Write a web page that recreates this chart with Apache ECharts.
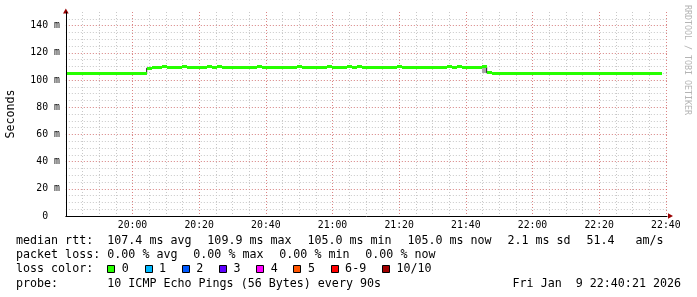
<!DOCTYPE html>
<html><head><meta charset="utf-8">
<script src="https://cdn.jsdelivr.net/npm/echarts@6/dist/echarts.min.js"></script>
<style>html,body{margin:0;padding:0;background:#fff}#c{width:697px;height:297px}</style>
</head><body><div id="c"></div>
<script>
// ---- data ----
const xTickValues = [1200, 1220, 1240, 1260, 1280, 1300, 1320, 1340, 1360]; // minutes of day
const xTickLabels = ['20:00', '20:20', '20:40', '21:00', '21:20', '21:40', '22:00', '22:20', '22:40'];
const yTickValues = [0, 20, 40, 60, 80, 100, 120, 140];
const yTickLabels = ['0  ', '20 m', '40 m', '60 m', '80 m', '100 m', '120 m', '140 m'];
const slotStartMin = 1180.25;   // 19:40:15, first 90 s slot
const slotStepMin = 1.5;        // 90 s per probe round
const medianRtt = [
  105.0,105.0,105.0,105.0,105.0,105.0,105.0,105.0,105.0,105.0,
  105.0,105.0,105.0,105.0,105.0,105.0,108.7,109.2,109.2,109.9,
  109.2,109.2,109.2,109.9,109.2,109.2,109.2,109.2,109.9,109.2,
  109.9,109.2,109.2,109.2,109.2,109.2,109.2,109.2,109.9,109.2,
  109.2,109.2,109.2,109.2,109.2,109.2,109.9,109.2,109.2,109.2,
  109.2,109.2,109.9,109.2,109.2,109.2,109.9,109.2,109.9,109.2,
  109.2,109.2,109.2,109.2,109.2,109.2,109.9,109.2,109.2,109.2,
  109.2,109.2,109.2,109.2,109.2,109.2,109.9,109.2,109.9,109.2,
  109.2,109.2,109.2,109.9,105.5,105.0,105.0,105.0,105.0,105.0,
  105.0,105.0,105.0,105.0,105.0,105.0,105.0,105.0,105.0,105.0,
  105.0,105.0,105.0,105.0,105.0,105.0,105.0,105.0,105.0,105.0,
  105.0,105.0,105.0,105.0,105.0,105.0,105.0,105.0,105.0
];
const smokeSlots = [83];
const smokeLow = [104.9];
const smokeHigh = [109.9];
const lossLabels = ['0', '1', '2', '3', '4', '5', '6-9', '10/10'];
const lossColors = ['#26ff00', '#00b8ff', '#0059ff', '#5e00ff', '#ff00ff', '#ff5500', '#ff0000', '#a10000'];
const statsRtt = ['107.4 ms avg', '109.9 ms max', '105.0 ms min', '105.0 ms now', '2.1 ms sd', '51.4   am/s'];
const statsLoss = ['0.00 % avg', '0.00 % max', '0.00 % min', '0.00 % now'];
const probeText = '10 ICMP Echo Pings (56 Bytes) every 90s';
const dateText = 'Fri Jan  9 22:40:21 2026';
const watermark = 'RRDTOOL / TOBI OETIKER';
const yName = 'Seconds';

// ---- layout ----
const X_MIN = 1180, X_MAX = 1360.35, Y_MIN = 0, Y_MAX = 150;
const GRID = { left: 65.83, right: 30, top: 12, bottom: 81 };
const MONO = '"DejaVu Sans Mono", monospace';
const FOOT = '11.67px ' + MONO;
const CW = 7.02; // footer char width
const MAJOR = 'rgba(255,0,0,0.34)';
const MINOR = '#c8c8c8';

const slotData = medianRtt.map((v, k) => [slotStartMin + k * slotStepMin, v]);
const lineData = slotData.concat([[slotStartMin + medianRtt.length * slotStepMin, medianRtt[medianRtt.length - 1]]]);
const smokeData = smokeSlots.map((k, i) => [slotStartMin + k * slotStepMin, smokeLow[i], smokeHigh[i]]);

function xFmt(v) { const i = xTickValues.findIndex(t => Math.abs(t - v) < 1e-6); return i < 0 ? '' : xTickLabels[i]; }
function yFmt(v) { const i = yTickValues.findIndex(t => Math.abs(t - v) < 1e-6); return i < 0 ? '' : yTickLabels[i]; }

const gridLine = (c) => ({ show: true, showMinLine: false, showMaxLine: false, lineStyle: { color: c, width: 1, type: [1, 2] } });
const hidden = { axisLine: { show: false }, axisTick: { show: false }, axisLabel: { show: false } };

// footer graphics
const graphics = [];
function txt(text, x, y, extra) {
  graphics.push(Object.assign({ type: 'text', x: x, y: y, silent: true,
    style: Object.assign({ text: text, font: FOOT, fill: '#000', align: 'left', verticalAlign: 'middle' }, extra || {}) }));
}
const rows = [241, 255, 269, 283.5];
txt('median rtt:', 16, rows[0]);
let cx = 107.3;
statsRtt.forEach(s => { txt(s, cx, rows[0]); cx += s.length * CW + 15.8; });
txt('packet loss:', 16, rows[1]);
cx = 107.3;
statsLoss.forEach(s => { txt(s, cx, rows[1]); cx += s.length * CW + 15.8; });
txt('loss color:', 16, rows[2]);
cx = 107.3;
lossLabels.forEach((s, i) => {
  graphics.push({ type: 'rect', silent: true, shape: { x: Math.round(cx) + 0.5, y: rows[2] - 3.5, width: 7, height: 7 },
    style: { fill: lossColors[i], stroke: '#000', lineWidth: 1 } });
  txt(s, cx + 14.5, rows[2]);
  cx += 14.5 + s.length * CW + 15.7;
});
txt('probe:', 16, rows[3]);
txt(probeText, 107.3, rows[3]);
txt(dateText, 681, rows[3], { align: 'right' });
// rotated labels
graphics.push({ type: 'text', x: 11, y: 114, rotation: Math.PI / 2, silent: true,
  style: { text: yName, font: FOOT, fill: '#000', align: 'center', verticalAlign: 'middle' } });
graphics.push({ type: 'text', x: 687.5, y: 5, rotation: -Math.PI / 2, silent: true,
  style: { text: watermark, font: '8.3px ' + MONO, fill: '#b4b4b4', align: 'left', verticalAlign: 'middle' } });
// axis arrows
const gx = GRID.left, gyb = 297 - GRID.bottom, gxr = 697 - GRID.right;
graphics.push({ type: 'polygon', silent: true, shape: { points: [[gx, 8.5], [gx - 2.8, 13.5], [gx + 2.8, 13.5]] }, style: { fill: '#990000' } });
graphics.push({ type: 'polygon', silent: true, shape: { points: [[gxr + 6, gyb], [gxr + 1, gyb - 2.8], [gxr + 1, gyb + 2.8]] }, style: { fill: '#990000' } });

const chart = echarts.init(document.getElementById('c'), null, { renderer: 'canvas', width: 697, height: 297 });
chart.setOption({
  animation: false,
  backgroundColor: '#fff',
  grid: GRID,
  xAxis: [
    { type: 'value', min: X_MIN, max: X_MAX, interval: 20, z: 3,
      axisLine: { show: true, lineStyle: { color: '#000', width: 1 } },
      axisTick: { show: false },
      axisLabel: { formatter: xFmt, fontFamily: MONO, fontSize: 9.8, color: '#000', margin: 4, showMinLabel: false, showMaxLabel: true },
      splitLine: gridLine(MAJOR) },
    Object.assign({ type: 'value', min: X_MIN, max: X_MAX, interval: 5, position: 'bottom', z: 1, splitLine: gridLine(MINOR) }, hidden)
  ],
  yAxis: [
    { type: 'value', min: Y_MIN, max: Y_MAX, interval: 20, z: 3,
      axisLine: { show: true, lineStyle: { color: '#000', width: 1 } },
      axisTick: { show: false },
      axisLabel: { formatter: yFmt, fontFamily: MONO, fontSize: 9.8, color: '#000', margin: 6, showMaxLabel: false },
      splitLine: gridLine(MAJOR) },
    Object.assign({ type: 'value', min: Y_MIN, max: Y_MAX, interval: 5, position: 'left', z: 1, splitLine: gridLine(MINOR) }, hidden)
  ],
  series: [
    { type: 'custom', name: 'smoke', z: 2, clip: true, data: smokeData,
      renderItem: (p, api) => {
        const a = api.coord([api.value(0), api.value(2)]);
        const b = api.coord([api.value(0) + slotStepMin, api.value(1)]);
        const x0 = Math.round(a[0]), x1 = Math.round(b[0]);
        return { type: 'rect', shape: { x: x0, y: Math.round(a[1]), width: x1 - x0, height: Math.round(b[1]) - Math.round(a[1]) }, style: { fill: '#a8a8a8' } };
      } },
    { type: 'line', name: 'median', z: 3, step: 'end', data: lineData, showSymbol: false, symbol: 'none',
      lineStyle: { color: '#202020', width: 1 }, clip: true },
    { type: 'custom', name: 'loss band', z: 4, clip: true, data: slotData,
      renderItem: (p, api) => {
        const a = api.coord([api.value(0), api.value(1)]);
        const b = api.coord([api.value(0) + slotStepMin, api.value(1)]);
        const x0 = Math.round(a[0]), x1 = Math.round(b[0]);
        return { type: 'rect', shape: { x: x0, y: Math.round(a[1] - 1.5), width: x1 - x0, height: 3 }, style: { fill: lossColors[0] } };
      } }
  ],
  graphic: graphics
});
</script></body></html>
